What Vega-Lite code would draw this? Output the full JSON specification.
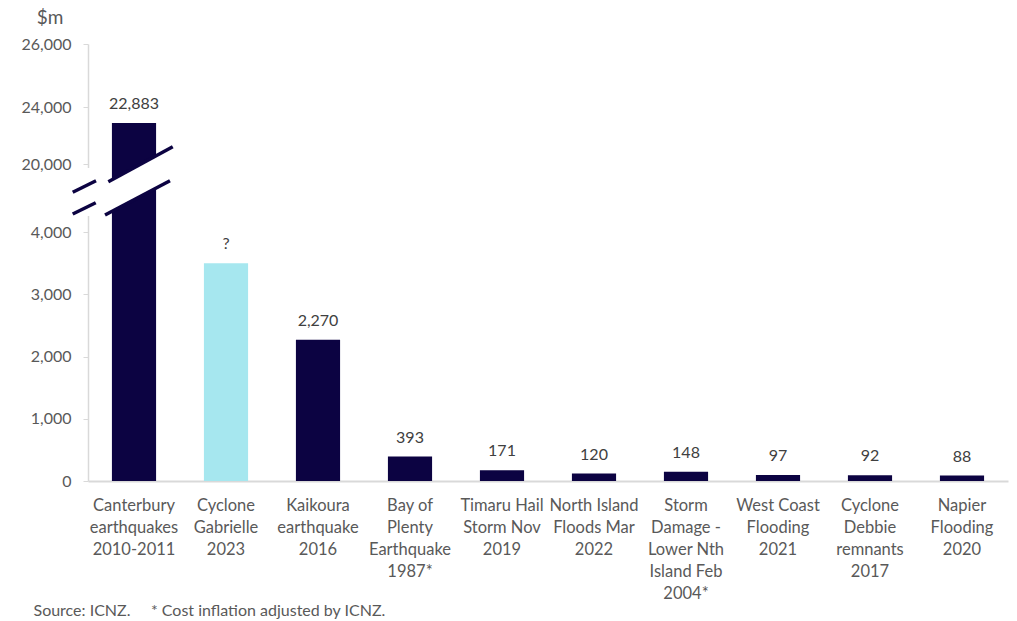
{
  "$schema": "https://vega.github.io/schema/vega-lite/v6.json",
  "autosize": "none",
  "width": 920,
  "height": 437,
  "padding": {"left": 88, "top": 44, "right": 9, "bottom": 140},
  "background": "white",
  "config": {
    "view": {"stroke": null},
    "font": "Lato",
    "axis": {"labelFont": "Lato", "titleFont": "Lato", "grid": false}
  },
  "datasets": {
    "events": [
      {"event": "Canterbury|earthquakes|2010-2011", "value": 22883, "label": "22,883", "highlight": false},
      {"event": "Cyclone|Gabrielle|2023", "value": 3500, "label": "?", "highlight": true},
      {"event": "Kaikoura|earthquake|2016", "value": 2270, "label": "2,270", "highlight": false},
      {"event": "Bay of|Plenty|Earthquake|1987*", "value": 393, "label": "393", "highlight": false},
      {"event": "Timaru Hail|Storm Nov|2019", "value": 171, "label": "171", "highlight": false},
      {"event": "North Island|Floods Mar|2022", "value": 120, "label": "120", "highlight": false},
      {"event": "Storm|Damage -|Lower Nth|Island Feb|2004*", "value": 148, "label": "148", "highlight": false},
      {"event": "West Coast|Flooding|2021", "value": 97, "label": "97", "highlight": false},
      {"event": "Cyclone|Debbie|remnants|2017", "value": 92, "label": "92", "highlight": false},
      {"event": "Napier|Flooding|2020", "value": 88, "label": "88", "highlight": false}
    ],
    "breakfill": [
      {"seg": "bar", "pos": 0.185, "value": 15412, "value2": 8000},
      {"seg": "bar", "pos": 0.891, "value": 21109, "value2": 16071},
      {"seg": "axis", "pos": -0.03, "value": 19059, "value2": 7765},
      {"seg": "axis", "pos": 0.03, "value": 19059, "value2": 7765}
    ],
    "breaklines": [
      {"seg": "a", "pos": -0.166, "value": 13341},
      {"seg": "a", "pos": 0.087, "value": 16071},
      {"seg": "b", "pos": 0.221, "value": 15836},
      {"seg": "b", "pos": 0.921, "value": 21214},
      {"seg": "c", "pos": -0.166, "value": 8235},
      {"seg": "c", "pos": 0.084, "value": 10894},
      {"seg": "d", "pos": 0.185, "value": 8000},
      {"seg": "d", "pos": 0.891, "value": 16071}
    ]
  },
  "encoding": {
    "y": {
      "field": "value",
      "type": "quantitative",
      "scale": {
        "domain": [0, 4000, 20000, 24000, 26000],
        "range": [437, 188, 120, 63, 0],
        "nice": false,
        "zero": false
      },
      "axis": {
        "title": "$m",
        "titleAngle": 0,
        "titleX": -38.5,
        "titleY": -27,
        "titleAlign": "center",
        "titleBaseline": "middle",
        "titleFontSize": 19,
        "titleFontWeight": "normal",
        "titleColor": "#595959",
        "values": [0, 1000, 2000, 3000, 4000, 20000, 24000, 26000],
        "labelExpr": "format(datum.value, ',')",
        "labelFontSize": 16,
        "labelColor": "#595959",
        "labelPadding": 12,
        "tickSize": 5,
        "tickColor": "#d9d9d9",
        "domainColor": "#d9d9d9",
        "domainWidth": 1.5
      }
    }
  },
  "layer": [
    {
      "data": {"name": "events"},
      "mark": {"type": "bar"},
      "encoding": {
        "x": {
          "field": "event",
          "type": "nominal",
          "sort": null,
          "scale": {"paddingInner": 0.52, "paddingOuter": 0.26},
          "axis": {
            "labelExpr": "split(datum.value, '|')",
            "labelAngle": 0,
            "labelFontSize": 16.5,
            "labelColor": "#595959",
            "labelLineHeight": 22,
            "labelPadding": 16,
            "labelBaseline": "top",
            "ticks": false,
            "domainColor": "#d9d9d9",
            "domainWidth": 1.8,
            "title": "Source: ICNZ. \u00a0\u00a0\u00a0\u00a0* Cost inflation adjusted by ICNZ.",
            "titleFontSize": 16,
            "titleFontWeight": "normal",
            "titleColor": "#595959",
            "titleX": -55,
            "titleY": 129,
            "titleAlign": "left",
            "titleAnchor": "start",
            "titleBaseline": "middle"
          }
        },
        "color": {
          "condition": {"test": "datum.highlight", "value": "#A6E7EF"},
          "value": "#0C0342"
        }
      }
    },
    {
      "data": {"name": "events"},
      "mark": {"type": "text", "baseline": "middle", "dy": -19, "fontSize": 16, "color": "#404040"},
      "encoding": {
        "x": {"field": "event", "type": "nominal", "sort": null, "scale": {"paddingInner": 0.52, "paddingOuter": 0.26}, "axis": null},
        "text": {"field": "label"}
      }
    },
    {
      "data": {"name": "breakfill"},
      "mark": {"type": "area", "color": "white", "opacity": 1},
      "encoding": {
        "x": {"field": "pos", "type": "quantitative", "scale": {"domain": [0, 10], "nice": false, "zero": false}, "axis": null},
        "y2": {"field": "value2"},
        "detail": {"field": "seg"}
      }
    },
    {
      "data": {"name": "breaklines"},
      "mark": {"type": "line", "color": "#0C0342", "strokeWidth": 3.5, "strokeCap": "butt"},
      "encoding": {
        "x": {"field": "pos", "type": "quantitative", "scale": {"domain": [0, 10], "nice": false, "zero": false}, "axis": null},
        "detail": {"field": "seg"}
      }
    }
  ],
  "resolve": {"scale": {"x": "independent"}}
}
